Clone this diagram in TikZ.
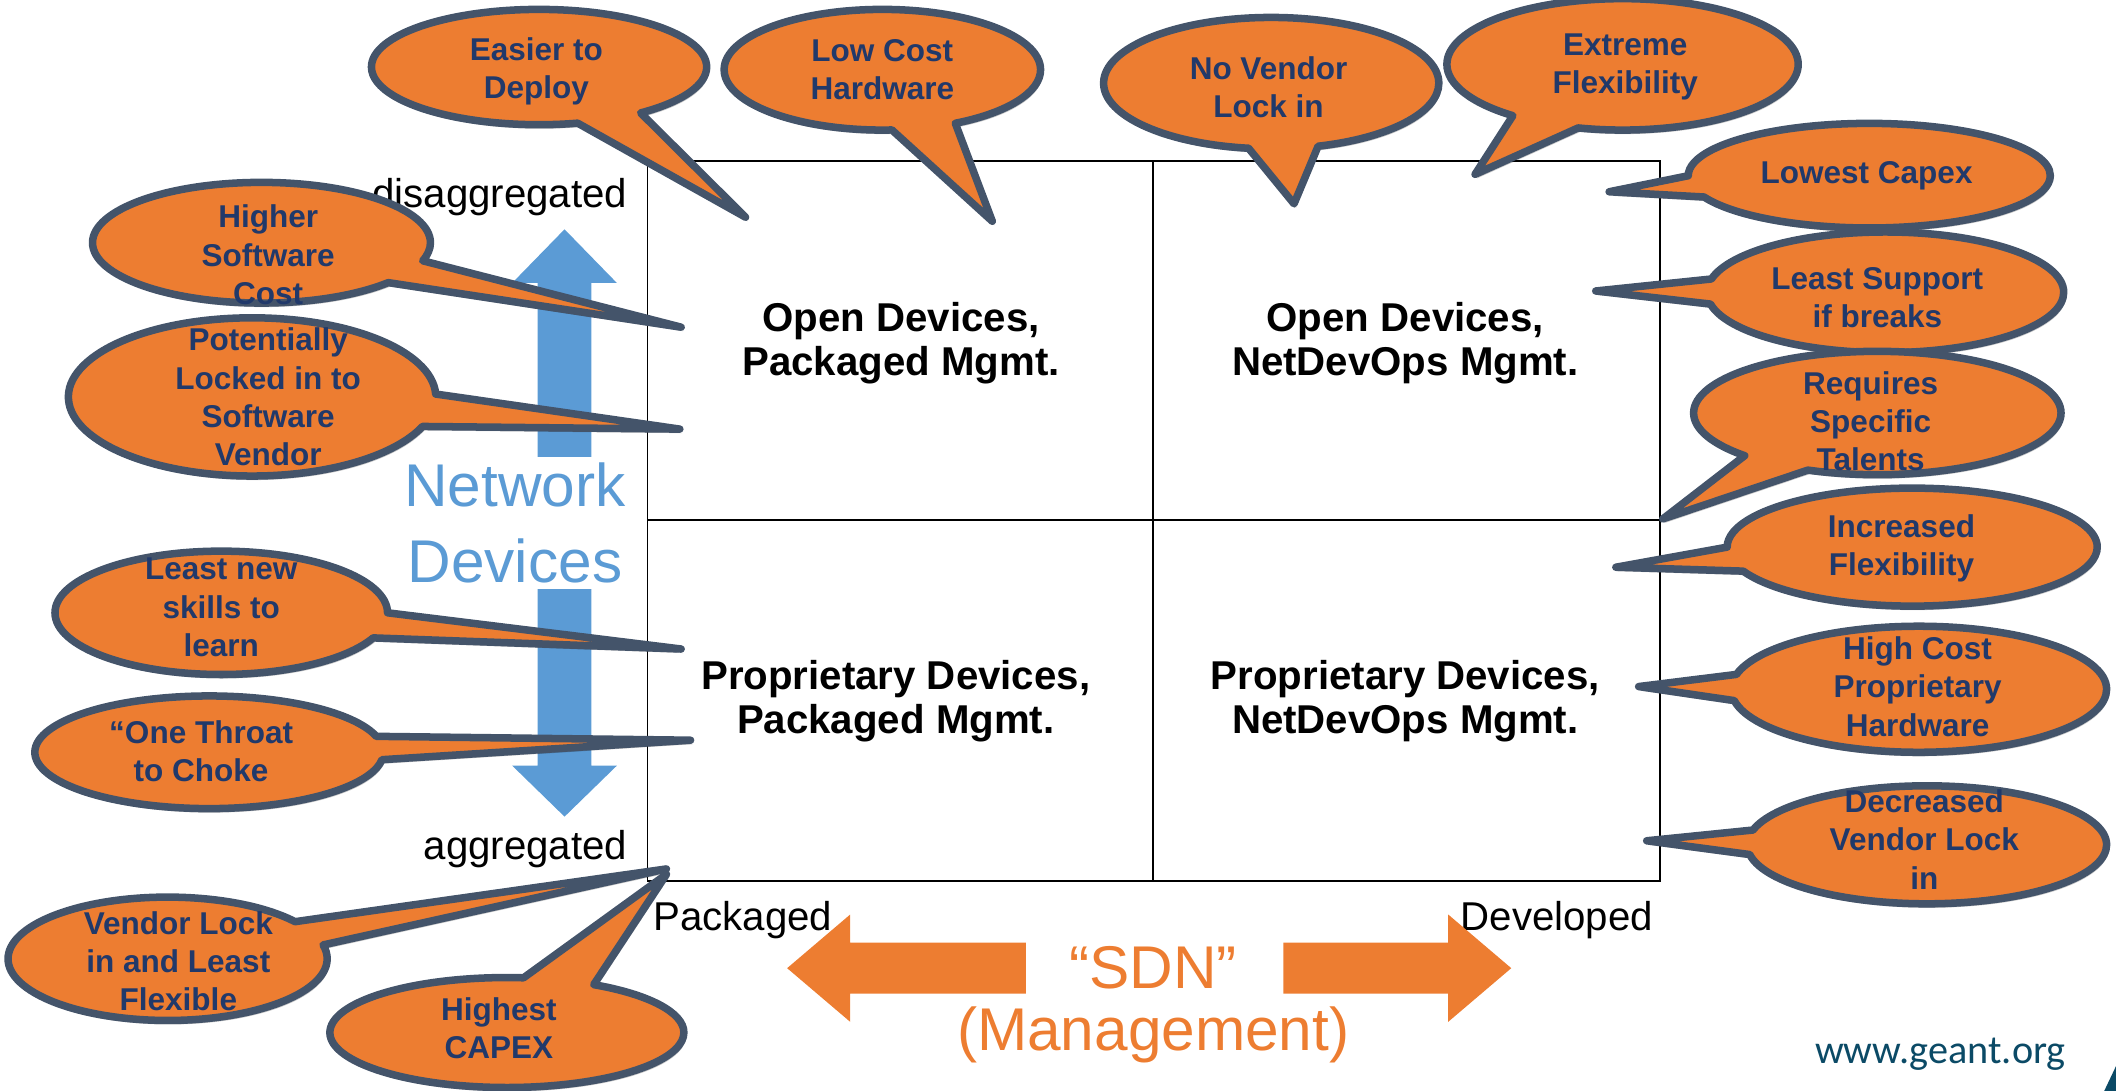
\documentclass[tikz,border=0pt]{standalone}
\usepackage{fontspec}
\setmainfont{Liberation Sans}
\newfontfamily\carlito{Carlito}
\usetikzlibrary{shapes.callouts,shadows}
\definecolor{coorange}{HTML}{ED7D31}
\definecolor{cobord}{HTML}{44546A}
\definecolor{cotxt}{HTML}{21396A}
\definecolor{netblue}{HTML}{5B9BD5}
\definecolor{geant}{HTML}{0B4A66}
\tikzset{
  co/.style={ellipse callout, draw=cobord, fill=coorange, line width=5.6pt,
    line join=round, inner sep=0pt, callout pointer arc=24,
    drop shadow={shadow xshift=1.5pt, shadow yshift=-3pt, opacity=0.22, fill=black}},
  cotext/.style={font=\bfseries\fontsize{23.5}{28.5}\selectfont, text=cotxt,
    align=center, inner sep=0pt},
  quad/.style={font=\bfseries\fontsize{30}{33}\selectfont, align=center, inner sep=0pt},
  axis/.style={font=\fontsize{30}{33}\selectfont, inner sep=0pt},
  big/.style={font=\fontsize{45}{57}\selectfont, align=center},
  gridline/.style={line width=1.2pt, draw=black}
}
\begin{document}
\begin{tikzpicture}[x=1pt,y=-1pt]
\useasboundingbox (0,0) rectangle (1578,813.6);
% grid
\coordinate (g1) at (483,120);
\coordinate (g2) at (1238,657);
\coordinate (mt) at (860,120);
\coordinate (mb) at (860,657);
\coordinate (ml) at (483,388);
\coordinate (mr) at (1238,388);
\draw[gridline] (g1) rectangle (g2);
\draw[gridline] (mt) -- (mb);
\draw[gridline] (ml) -- (mr);
% quadrant labels
\node[quad] (q1) at (672,256) {Open Devices,\\Packaged Mgmt.};
\node[quad] (q2) at (1048,256) {Open Devices,\\NetDevOps Mgmt.};
\node[quad] (q3) at (668,523) {Proprietary Devices,\\Packaged Mgmt.};
\node[quad] (q4) at (1048,523) {Proprietary Devices,\\NetDevOps Mgmt.};
% axis labels
\node[axis, anchor=east] (dis) at (468,147) {disaggregated};
\node[axis, anchor=east] (agg) at (468,633) {aggregated};
\node[axis, anchor=west] (pkg) at (487,686) {Packaged};
\node[axis, anchor=east] (dev) at (1233,686) {Developed};
% blue double arrow
\fill[netblue] (421,171) -- (460,211) -- (441,211) -- (441,571) -- (460,571)
  -- (421,609) -- (382,571) -- (401,571) -- (401,211) -- (382,211) -- cycle;
\node[big, text=netblue, fill=white, inner sep=4pt] (net) at (384,390) {Network\\Devices};
% orange arrows
\fill[coorange] (587,722) -- (634,682) -- (634,703) -- (765,703) -- (765,741)
  -- (634,741) -- (634,762) -- cycle;
\fill[coorange] (1127,722) -- (1080,682) -- (1080,703) -- (957,703) -- (957,741)
  -- (1080,741) -- (1080,762) -- cycle;
\node[big, text=coorange, inner sep=0pt] (sdn) at (860,722) {“SDN”};
\node[big, text=coorange, inner sep=0pt] (mgmt) at (860,772) {(Management)};
% footer
\node[font=\carlito\fontsize{30}{32}\selectfont, text=geant, inner sep=0pt] (url) at (1447,786) {www.geant.org};
\fill[geant] (1578,795) -- (1578,814) -- (1569,814) -- cycle;
% callout tips
\coordinate (t1) at (556,162);
\coordinate (t2) at (740,165);
\coordinate (t3) at (965,152);
\coordinate (t4) at (1100,130);
\coordinate (t5) at (1200,143);
\coordinate (t6) at (1190,217);
\coordinate (t7) at (1240,387);
\coordinate (t8) at (1205,423);
\coordinate (t9) at (1222,512);
\coordinate (t10) at (1228,627);
\coordinate (t11) at (508,244);
\coordinate (t12) at (507,320);
\coordinate (t13) at (508,484);
\coordinate (t14) at (515,552);
\coordinate (t15) at (497,648);
\coordinate (t16) at (497,652);
% top callouts
\node[co, minimum width=250, minimum height=86, callout absolute pointer={(t1)}] (c1) at (402,50) {};
\node[cotext] (c1t) at (400,53) {Easier to\\Deploy};
\node[co, minimum width=236, minimum height=90, callout absolute pointer={(t2)}] (c2) at (658,52) {};
\node[cotext] (c2t) at (658,52) {Low Cost\\Hardware};
\node[co, minimum width=250, minimum height=98, callout absolute pointer={(t3)}] (c3) at (948,62) {};
\node[cotext] (c3t) at (946,65) {No Vendor\\Lock in};
\node[co, minimum width=262, minimum height=98, callout absolute pointer={(t4)}] (c4) at (1210,48) {};
\node[cotext] (c4t) at (1212,50) {Extreme\\Flexibility};
% right callouts
\node[co, minimum width=270, minimum height=78, callout absolute pointer={(t5)}] (c5) at (1394,131) {};
\node[cotext] (c5t) at (1392,131) {Lowest Capex};
\node[co, minimum width=266, minimum height=90, callout absolute pointer={(t6)}] (c6) at (1406,218) {};
\node[cotext] (c6t) at (1400,222) {Least Support\\if breaks};
\node[co, minimum width=274, minimum height=92, callout absolute pointer={(t7)}] (c7) at (1400,308) {};
\node[cotext] (c7t) at (1395,314) {Requires\\Specific\\Talents};
\node[co, minimum width=276, minimum height=88, callout absolute pointer={(t8)}] (c8) at (1426,408) {};
\node[cotext] (c8t) at (1418,409) {Increased\\Flexibility};
\node[co, minimum width=280, minimum height=94, callout absolute pointer={(t9)}] (c9) at (1431,514) {};
\node[cotext] (c9t) at (1430,512) {High Cost\\Proprietary\\Hardware};
\node[co, minimum width=268, minimum height=88, callout absolute pointer={(t10)}] (c10) at (1437,630) {};
\node[cotext] (c10t) at (1435,626) {Decreased\\Vendor Lock\\in};
% left callouts
\node[co, minimum width=252, minimum height=90, callout absolute pointer={(t11)}] (c11) at (195,181) {};
\node[cotext] (c11t) at (200,190) {Higher\\Software\\Cost};
\node[co, minimum width=274, minimum height=118, callout absolute pointer={(t12)}] (c12) at (188,296) {};
\node[cotext] (c12t) at (200,296) {Potentially\\Locked in to\\Software\\Vendor};
\node[co, minimum width=248, minimum height=92, callout absolute pointer={(t13)}] (c13) at (165,457) {};
\node[cotext] (c13t) at (165,453) {Least new\\skills to\\learn};
\node[co, minimum width=260, minimum height=84, callout absolute pointer={(t14)}] (c14) at (156,561) {};
\node[cotext] (c14t) at (150,560) {“One Throat\\to Choke};
\node[co, minimum width=238, minimum height=92, callout absolute pointer={(t15)}] (c15) at (125,715) {};
\node[cotext] (c15t) at (133,717) {Vendor Lock\\in and Least\\Flexible};
\node[co, minimum width=264, minimum height=82, callout absolute pointer={(t16)}] (c16) at (378,770) {};
\node[cotext] (c16t) at (372,767) {Highest\\CAPEX};
\end{tikzpicture}
\end{document}
